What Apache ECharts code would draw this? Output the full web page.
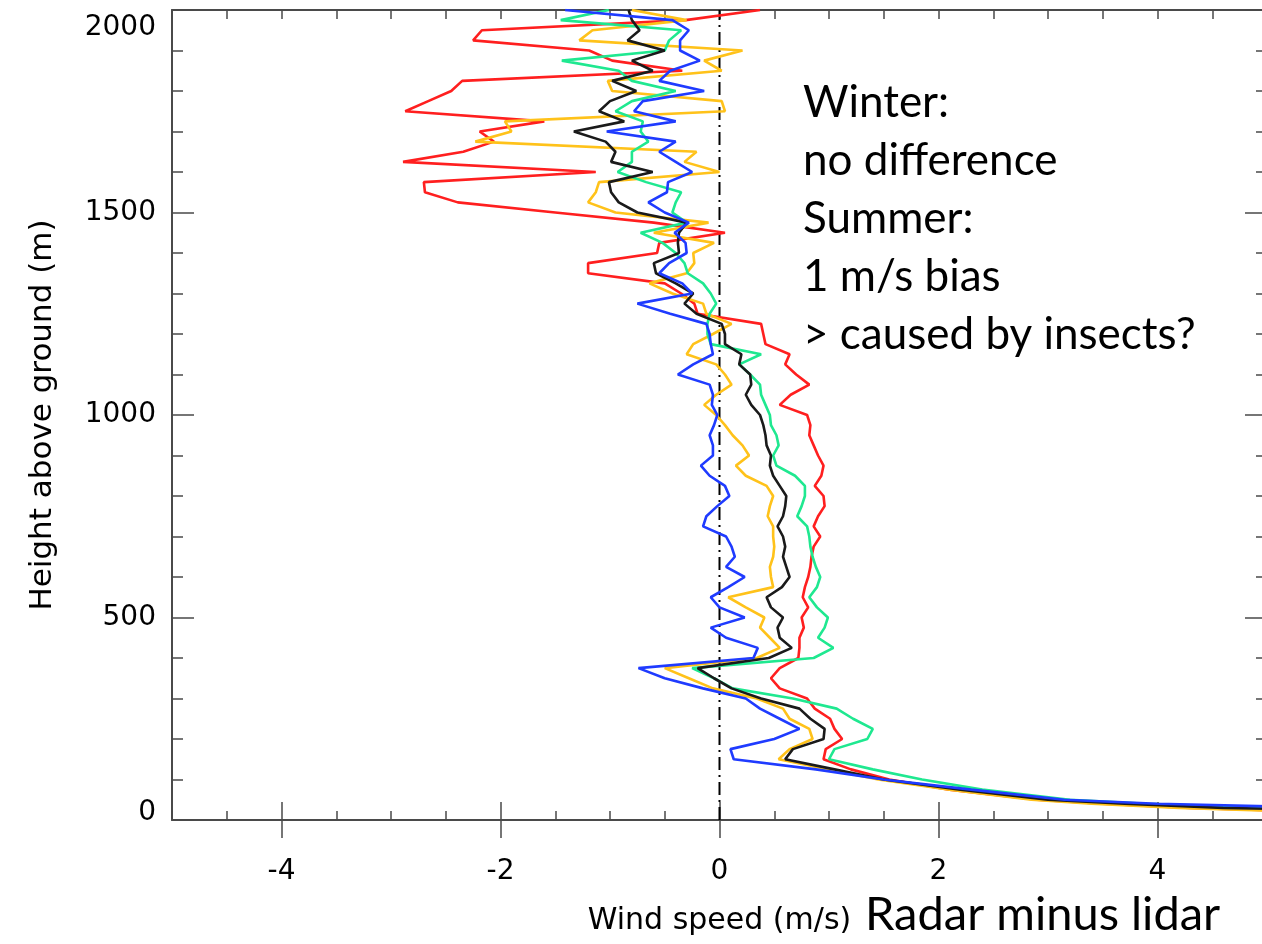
<!DOCTYPE html>
<html>
<head>
    <meta http-equiv="Content-Type" content="text/html; charset=utf-8"/>
    <title>Radar minus lidar</title>
    <style type="text/css">
        html, body { margin: 0; padding: 0; background: #fff; overflow: hidden; }
        #wrap { width: 1262px; height: 944px; overflow: hidden; position: relative; }
        #container { width: 1272px; height: 944px; position: absolute; left: 0; top: 0; }
    </style>
</head>
<body>
<div id="wrap"><div id="container"></div></div>
<script src="https://cdn.jsdelivr.net/npm/echarts/dist/echarts.min.js"></script>
<script type="text/javascript">
    // heights of the profile levels (m)
    var heights = [
        2000, 1975, 1950, 1925, 1900, 1875, 1850, 1825, 1800, 1775,
        1750, 1725, 1700, 1675, 1650, 1625, 1600, 1575, 1550, 1525,
        1500, 1475, 1450, 1425, 1400, 1375, 1350, 1325, 1300, 1275,
        1250, 1225, 1200, 1175, 1150, 1125, 1100, 1075, 1050, 1025,
        1000, 975, 950, 925, 900, 875, 850, 825, 800, 775,
        750, 725, 700, 675, 650, 625, 600, 575, 550, 525,
        500, 475, 450, 425, 400, 375, 350, 325, 300, 275,
        250, 225, 200, 175, 150, 125, 100, 75, 50, 40,
        30, 20
    ];
    // radar minus lidar wind speed (m/s), one value per height
    var redDiff = [
        0.37, -0.31, -2.17, -2.25, -1.19, -0.98, -0.34, -2.35, -2.45, -2.66,
        -2.87, -1.6, -2.19, -2.06, -2.34, -2.89, -1.13, -2.7, -2.69, -2.39,
        -1.5, -0.6, 0.05, -0.55, -0.57, -1.2, -1.2, -0.5, -0.35, -0.23,
        -0.2, 0.38, 0.4, 0.42, 0.64, 0.6, 0.7, 0.82, 0.65, 0.55,
        0.8, 0.83, 0.82, 0.86, 0.9, 0.95, 0.93, 0.87, 0.95, 0.96,
        0.9, 0.86, 0.92, 0.86, 0.84, 0.83, 0.81, 0.78, 0.76, 0.81,
        0.75, 0.77, 0.73, 0.73, 0.72, 0.55, 0.47, 0.55, 0.8, 0.87,
        1.01, 1.05, 1.12, 0.97, 0.95, 1.2, 1.55, 2.1, 2.9, 3.5,
        4.3, 5.6
    ];
    var orangeDiff = [
        -0.8, -0.3, -1.16, -1.28, 0.21, -0.14, 0.02, -1.02, -0.98, 0.02,
        0.05, -1.96, -1.9, -2.23, -0.21, -0.32, 0.0, -1.1, -1.13, -1.2,
        -0.95, -0.1, -0.6, -0.05, -0.24, -0.23, -0.3, -0.64, -0.43, -0.15,
        -0.12, 0.11, -0.06, -0.24, -0.3, -0.03, 0.05, 0.11, -0.03, -0.14,
        -0.03, 0.05, 0.12, 0.21, 0.27, 0.15, 0.24, 0.43, 0.49, 0.46,
        0.44, 0.49, 0.49, 0.5, 0.49, 0.46, 0.47, 0.49, 0.08, 0.24,
        0.41, 0.37, 0.46, 0.55, 0.34, -0.5, -0.28, -0.06, 0.34, 0.58,
        0.64, 0.82, 0.85, 0.64, 0.54, 1.0, 1.45, 2.1, 2.85, 3.4,
        4.2, 5.4
    ];
    var greenDiff = [
        -1.01, -1.45, -0.35, -0.46, -0.5, -1.44, -0.92, -0.8, -0.4, -0.8,
        -0.95, -0.7, -0.72, -0.65, -0.8, -0.8, -0.93, -0.67, -0.35, -0.4,
        -0.43, -0.3, -0.72, -0.52, -0.4, -0.32, -0.29, -0.15, -0.08, -0.03,
        -0.09, -0.11, -0.11, -0.08, 0.38, 0.18, 0.28, 0.37, 0.38, 0.42,
        0.46, 0.47, 0.52, 0.54, 0.49, 0.52, 0.69, 0.78, 0.78, 0.75,
        0.71, 0.8, 0.82, 0.83, 0.85, 0.88, 0.92, 0.89, 0.82, 0.89,
        0.99, 0.96, 0.9, 1.04, 0.86, -0.25, -0.05, 0.12, 0.67, 1.07,
        1.22, 1.4, 1.35, 1.05, 1.0, 1.4, 1.85, 2.4, 3.2, 3.9,
        5.0, 7.0
    ];
    var blackDiff = [
        -0.83, -0.8, -0.73, -0.84, -0.5, -0.8, -0.61, -0.98, -0.76, -1.0,
        -1.1, -0.87, -1.33, -1.04, -0.95, -0.99, -0.61, -1.01, -0.99, -0.92,
        -0.75, -0.3, -0.37, -0.38, -0.37, -0.6, -0.58, -0.4, -0.24, -0.32,
        -0.21, 0.02, 0.05, 0.05, 0.2, 0.18, 0.28, 0.29, 0.24, 0.29,
        0.37, 0.4, 0.42, 0.43, 0.47, 0.46, 0.49, 0.55, 0.61, 0.6,
        0.58, 0.53, 0.58, 0.6, 0.58, 0.61, 0.64, 0.57, 0.43, 0.47,
        0.58, 0.53, 0.55, 0.66, 0.45, -0.2, -0.05, 0.11, 0.38, 0.73,
        0.83, 0.96, 0.95, 0.67, 0.6, 1.05, 1.5, 2.2, 3.0, 3.7,
        4.6, 6.5
    ];
    var blueDiff = [
        -1.41, -0.43, -0.28, -0.36, -0.36, -0.18, -0.45, -0.55, -0.14, -0.7,
        -0.78, -0.4, -1.03, -0.4, -0.55, -0.4, -0.25, -0.47, -0.48, -0.65,
        -0.5, -0.28, -0.41, -0.31, -0.3, -0.46, -0.55, -0.34, -0.25, -0.75,
        -0.45, -0.12, -0.09, -0.08, -0.06, -0.24, -0.38, -0.09, -0.06, -0.07,
        -0.02, -0.05, -0.09, -0.06, -0.06, -0.17, -0.09, 0.05, 0.09, -0.02,
        -0.12, -0.15, 0.06, 0.11, 0.14, 0.06, 0.23, 0.08, -0.08, 0.0,
        0.23, -0.08, 0.06, 0.35, 0.31, -0.74, -0.5, -0.15, 0.24, 0.37,
        0.55, 0.73, 0.5, 0.1, 0.13, 0.88, 1.5, 2.3, 3.15, 4.0,
        5.6, 8.0
    ];
    // zero reference line (dash-dot)
    var zeroLine = [[0, 0], [0, 2000]];
    // tick labels
    var xLabelValues = [-4, -2, 0, 2, 4];

    var axisColor = '#4a4a4a';
    var tickFont = 'DejaVu Sans';

    function profile(vals) {
        var out = [];
        for (var i = 0; i < heights.length; i++) {
            out.push([vals[i], heights[i]]);
        }
        return out;
    }

    function lineSeries(name, color, vals) {
        return {
            name: name,
            type: 'line',
            data: profile(vals),
            showSymbol: false,
            symbol: 'none',
            clip: true,
            lineStyle: {color: color, width: 2.6},
            xAxisIndex: 0,
            yAxisIndex: 0
        };
    }

    var myChart = echarts.init(document.getElementById('container'));

    var xBase = {
        type: 'value', min: -5, max: 5, interval: 0.5,
        splitLine: {show: false},
        axisLine: {show: false},
        axisLabel: {show: false},
        axisTick: {show: true, inside: true, length: 9, lineStyle: {color: axisColor, width: 1.5}}
    };

    var option = {
        animation: false,
        backgroundColor: '#fff',
        grid: {left: 172, top: 10, width: 1095, height: 810, containLabel: false},
        xAxis: [
            // main bottom axis with labels and minor ticks
            Object.assign({}, xBase, {
                position: 'bottom',
                axisLine: {show: true, onZero: false, lineStyle: {color: axisColor, width: 2}},
                axisLabel: {
                    show: true, customValues: xLabelValues, margin: 38,
                    color: '#000', fontSize: 28, fontFamily: tickFont
                },
                name: 'Wind speed (m/s)',
                nameLocation: 'middle',
                nameGap: 86,
                nameTextStyle: {color: '#000', fontSize: 30, fontFamily: tickFont}
            }),
            // bottom major ticks
            Object.assign({}, xBase, {
                position: 'bottom',
                axisTick: {show: true, inside: true, length: 18, customValues: xLabelValues,
                    lineStyle: {color: axisColor, width: 1.5}}
            }),
            // top border with minor ticks
            Object.assign({}, xBase, {
                position: 'top',
                axisLine: {show: true, onZero: false, lineStyle: {color: axisColor, width: 2}}
            }),
            // top major ticks
            Object.assign({}, xBase, {
                position: 'top',
                axisTick: {show: true, inside: true, length: 18, customValues: xLabelValues,
                    lineStyle: {color: axisColor, width: 1.5}}
            })
        ],
        yAxis: [
            {
                type: 'value', min: 0, max: 2000, interval: 500,
                position: 'left',
                splitLine: {show: false},
                axisLine: {show: true, onZero: false, lineStyle: {color: axisColor, width: 2}},
                axisTick: {show: true, inside: true, length: 22, lineStyle: {color: axisColor, width: 1.5}},
                minorTick: {show: true, splitNumber: 5, length: 11, lineStyle: {color: axisColor, width: 1.5}},
                axisLabel: {
                    show: true, margin: 16, color: '#000', fontSize: 28, fontFamily: tickFont,
                    formatter: function (v) {
                        if (v === 2000) return '{hi|' + v + '}';
                        if (v === 0) return '{lo|' + v + '}';
                        return '' + v;
                    },
                    rich: {
                        hi: {fontSize: 28, fontFamily: tickFont, color: '#000', padding: [36, 0, 0, 0]},
                        lo: {fontSize: 28, fontFamily: tickFont, color: '#000', padding: [0, 0, 14, 0]}
                    }
                },
                name: 'Height above ground (m)',
                nameLocation: 'middle',
                nameGap: 114,
                nameTextStyle: {color: '#000', fontSize: 31, fontFamily: tickFont}
            },
            {
                // right side: only the inward ticks fall inside the picture
                type: 'value', min: 0, max: 2000, interval: 500,
                position: 'right',
                splitLine: {show: false},
                axisLine: {show: false, onZero: false},
                axisTick: {show: true, inside: true, length: 22, lineStyle: {color: axisColor, width: 1.5}},
                minorTick: {show: true, splitNumber: 5, length: 11, lineStyle: {color: axisColor, width: 1.5}},
                axisLabel: {show: false}
            }
        ],
        graphic: [
            {
                type: 'text', left: 803, top: 74, z: 100,
                style: {
                    text: 'Winter:\nno difference\nSummer:\n1 m/s bias\n> caused by insects?',
                    font: '44px Lato', lineHeight: 58, fill: '#000'
                }
            },
            {
                type: 'text', left: 865, top: 889, z: 100,
                style: {text: 'Radar minus lidar', font: '47px Lato', lineHeight: 52, fill: '#000'}
            }
        ],
        series: [
            {
                name: 'zero', type: 'line', data: zeroLine, showSymbol: false, symbol: 'none',
                lineStyle: {color: '#000', width: 2, type: [13, 5, 2, 5]},
                xAxisIndex: 0, yAxisIndex: 0, z: 1
            },
            lineSeries('red', '#ff1f1f', redDiff),
            lineSeries('orange', '#ffc21a', orangeDiff),
            lineSeries('green', '#1fe890', greenDiff),
            lineSeries('black', '#1a1a1a', blackDiff),
            lineSeries('blue', '#1f3bff', blueDiff)
        ]
    };

    myChart.setOption(option);
</script>
</body>
</html>
